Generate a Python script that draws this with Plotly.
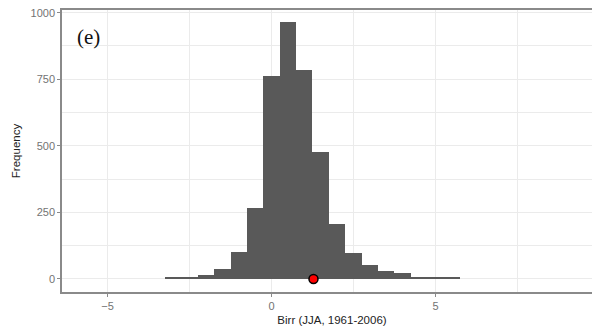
import plotly.graph_objects as go

# histogram of Birr (JJA, 1961-2006), bin width 0.5
bin_centers = [-3.0, -2.5, -2.0, -1.5, -1.0, -0.5, 0.0, 0.5, 1.0, 1.5, 2.0, 2.5, 3.0, 3.5, 4.0, 4.5, 5.0, 5.5]
counts = [8, 8, 13, 36, 103, 268, 762, 964, 785, 476, 205, 98, 53, 30, 24, 4, 4, 4]
bin_width = 0.5
observed_x = [1.28]
observed_y = [0]

x_ticks = [-5, 0, 5]
y_ticks = [0, 250, 500, 750, 1000]

GRID = "#ebebeb"
AXIS = "#8a8a8a"
TICKFONT = dict(family="Liberation Sans, Arial, sans-serif", size=11, color="#737373")
TITLEFONT = dict(family="Liberation Sans, Arial, sans-serif", size=11.5, color="#222222")

fig = go.Figure()
fig.add_trace(go.Bar(
    x=bin_centers,
    y=counts,
    width=bin_width,
    marker=dict(color="#595959", line=dict(width=0)),
    hovertemplate="%{x}: %{y}<extra></extra>",
))
fig.add_trace(go.Scatter(
    x=observed_x,
    y=observed_y,
    mode="markers",
    marker=dict(size=9, color="#ff0000", line=dict(color="#000000", width=1.5)),
    hoverinfo="skip",
))

# panel runs past the right edge of the 592px window, as in the cropped original
fig.update_layout(
    width=602,
    height=335,
    margin=dict(l=62, r=0, t=10, b=43),
    paper_bgcolor="white",
    plot_bgcolor="white",
    showlegend=False,
    bargap=0,
    xaxis=dict(
        range=[-6.39, 10.08],
        tickvals=x_ticks,
        ticks="outside",
        ticklen=3,
        tickcolor=AXIS,
        tickfont=TICKFONT,
        showgrid=True,
        gridcolor=GRID,
        gridwidth=1,
        minor=dict(dtick=2.5, tick0=0, showgrid=True, gridcolor=GRID, gridwidth=0.7),
        zeroline=False,
        showline=True,
        linecolor=AXIS,
        linewidth=1.5,
        mirror=True,
        title=dict(text="Birr (JJA, 1961-2006)", font=TITLEFONT, standoff=5),
    ),
    yaxis=dict(
        range=[-49, 1010],
        tickvals=y_ticks,
        ticks="outside",
        ticklen=3,
        tickcolor=AXIS,
        tickfont=TICKFONT,
        showgrid=True,
        gridcolor=GRID,
        gridwidth=1,
        minor=dict(dtick=125, tick0=0, showgrid=True, gridcolor=GRID, gridwidth=0.7),
        zeroline=False,
        showline=True,
        linecolor=AXIS,
        linewidth=1.5,
        mirror=False,
        title=dict(text="Frequency", font=TITLEFONT, standoff=8),
    ),
    annotations=[dict(
        text="(e)",
        xref="paper", yref="paper",
        x=0.024, y=0.905,
        xanchor="left", yanchor="middle",
        showarrow=False,
        font=dict(family="Liberation Serif, Times New Roman, serif", size=21, color="#111111"),
    )],
)

# drop the browser's default body margin and any scrollbars
fig.write_html(
    "out.html",
    config={"displayModeBar": False},
    post_script="document.body.style.margin='0';document.body.style.overflow='hidden';",
)
